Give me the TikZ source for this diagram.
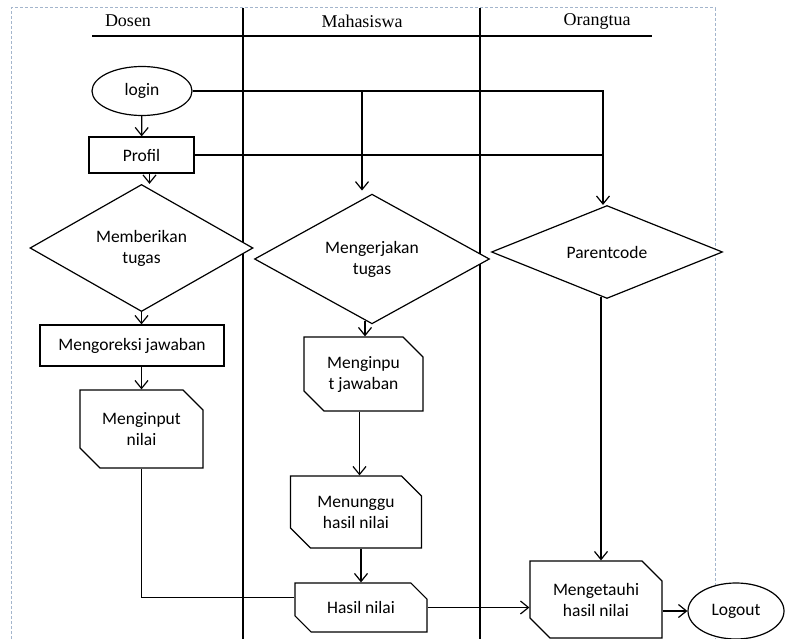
\documentclass[tikz,border=0pt]{standalone}
\usepackage{fontspec}
\setmainfont{Liberation Serif}
\newfontfamily\nodefont{Carlito}
\usetikzlibrary{shapes.geometric, shapes.misc, arrows.meta, positioning}

\definecolor{framegray}{HTML}{A3B5CC}

\begin{document}
\begin{tikzpicture}[
        x=1pt, y=-1pt,
        box/.style={rectangle, draw, line width=1.2pt, fill=white, text centered, align=center, inner sep=0pt, font=\nodefont\fontsize{17.5}{21}\selectfont},
        card/.style={chamfered rectangle, chamfered rectangle corners={north east, south west}, chamfered rectangle xsep=10pt, chamfered rectangle ysep=10pt, draw, line width=1.2pt, fill=white, align=center, inner sep=0pt, font=\nodefont\fontsize{17.5}{21}\selectfont},
        decision/.style={diamond, draw, line width=1.2pt, fill=white, align=center, inner sep=0pt, font=\nodefont\fontsize{17.5}{21}\selectfont},
        terminal/.style={ellipse, draw, line width=1.2pt, fill=white, inner sep=0pt, font=\nodefont\fontsize{17.5}{21}\selectfont},
        lane/.style={font=\fontsize{18}{22}\selectfont},
        line/.style={draw, line width=1.2pt},
        arrow/.style={draw, line width=1.2pt, -{Straight Barb[length=8pt,width=13pt,line width=1.2pt]}}
    ]
    \useasboundingbox (0,0) rectangle (788,639);

    % frame and swimlanes
    \draw[framegray, line width=1pt, dash pattern=on 3pt off 2pt] (11,639) -- (11,8) -- (715,8) -- (715,639);
    \draw[line] (92,36) -- (652,36);
    \draw[line] (243,8) -- (243,639);
    \draw[line] (480,8) -- (480,639);
    \node[lane] (dosen) at (128,21) {Dosen};
    \node[lane] (mhs) at (362,21) {Mahasiswa};
    \node[lane] (ortu) at (597,21) {Orangtua};

    % nodes
    \node[terminal, minimum width=100pt, minimum height=49pt] (login) at (142,91) {login};
    \node[box, minimum width=105pt, minimum height=36pt] (profil) at (141.5,155) {Profil};
    \node[decision, minimum width=223pt, minimum height=104pt] (beri) at (141.5,248) {Memberikan\\tugas};
    \node[box, minimum width=184pt, minimum height=41pt] (koreksi) at (132,345.5) {Mengoreksi jawaban};
    \node[card, minimum width=123pt, minimum height=78pt] (inputnilai) at (141.5,429) {Menginput\\nilai};

    \node[decision, minimum width=235pt, minimum height=108pt] (kerjakan) at (372,259) {Mengerjakan\\tugas};
    \node[card, minimum width=119pt, minimum height=74pt] (inputjawab) at (363.5,374) {Menginpu\\t jawaban};
    \node[card, minimum width=131pt, minimum height=72pt] (tunggu) at (356,512) {Menunggu\\hasil nilai};
    \node[card, minimum width=132pt, minimum height=49pt] (hasil) at (361,607.5) {Hasil nilai};

    \node[decision, minimum width=231pt, minimum height=90pt] (parent) at (607,252) {Parentcode};
    \node[card, minimum width=132pt, minimum height=77pt] (tahu) at (596,599.5) {Mengetauhi\\hasil nilai};
    \node[terminal, minimum width=96pt, minimum height=56pt] (logout) at (736,611) {Logout};

    % join points
    \coordinate (pjoin) at ([xshift=-4pt]parent.north);
    \coordinate (kjoin) at ([xshift=-10pt]kerjakan.north);

    % lines
    \path[arrow] (login) -- (profil);
    \path[arrow] (login.east) -| (pjoin);
    \path[line] (profil.east) -- (profil.east -| pjoin);
    \path[arrow] (kjoin |- login.east) -- ([yshift=3pt]kjoin);
    \path[arrow] ([xshift=8pt]profil.south) -- ([xshift=8pt]profil.south |- beri.north);
    \path[arrow] (beri.south) -- (beri.south |- koreksi.north);
    \path[arrow] (inputnilai.north |- koreksi.south) -- (inputnilai.north);
    \path[line] (inputnilai.south) |- ([yshift=10pt]hasil.west);
    \path[arrow] ([xshift=-7pt,yshift=3pt]kerjakan.south) -- ([xshift=-7pt]kerjakan.south |- inputjawab.north);
    \path[arrow] ([xshift=-4pt]inputjawab.south) -- ([xshift=-4pt]inputjawab.south |- tunggu.north);
    \path[arrow] (hasil.north |- tunggu.south) -- (hasil.north);
    \path[arrow] (hasil.east) -- (hasil.east -| tahu.west);
    \path[arrow] ([xshift=-6pt,yshift=2pt]parent.south) -- ([xshift=-6pt]parent.south |- tahu.north);
    \path[arrow] (logout.west -| tahu.east) -- (logout.west);

\end{tikzpicture}
\end{document}
